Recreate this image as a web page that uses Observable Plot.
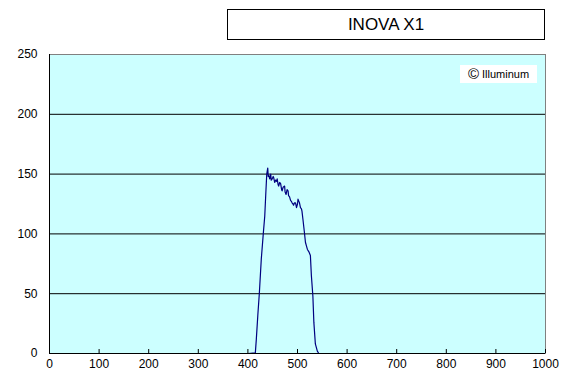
<!DOCTYPE html>
<html>
<head>
<meta charset="utf-8">
<script src="https://cdn.jsdelivr.net/npm/d3@7"></script>
<script src="https://cdn.jsdelivr.net/npm/@observablehq/plot@0.6"></script>
<style>
  html, body { margin: 0; padding: 0; background: #ffffff; }
  #wrap { position: relative; width: 571px; height: 384px; font-family: "Liberation Sans", Arial, sans-serif; }
  #title { position: absolute; left: 227px; top: 9px; width: 316px; height: 29px; border: 1px solid #000;
           background: #fff; font-size: 17px; line-height: 29px; text-align: center; color: #000; }
  #mark { position: absolute; left: 460px; top: 65px; width: 77px; height: 18px; background: #fff;
          font-size: 11px; line-height: 18px; text-align: center; color: #000; }
  #mark span.c { font-size: 15px; vertical-align: -1px; }
</style>
</head>
<body>
<div id="wrap">
  <div id="chart"></div>
  <div id="title">INOVA X1</div>
  <div id="mark"><span class="c">©</span> Illuminum</div>
</div>
<script>
const title = "INOVA X1";
const wavelength = [400, 415, 417, 420, 423, 427, 431, 434, 436, 438, 440, 441, 442, 444, 446, 447, 449, 451, 452, 454, 456, 458, 459, 461, 462, 464, 466, 468, 469, 471, 474, 475, 477, 479, 481, 482, 484, 486, 488, 489, 491, 492, 494, 496, 498, 500, 501, 503, 504, 506, 508, 509, 511, 514, 516, 518, 520, 523, 524, 526, 528, 531, 533, 536, 540, 543, 560];
const intensity  = [0,   0.5, 12,  32,  50,  79,  100, 115, 133, 150, 155, 148, 149, 146, 150, 145, 146, 148, 147, 143, 145, 144, 146, 141, 140, 143, 142, 137, 136, 139, 140, 135, 133, 137, 136, 132, 131, 128, 127, 126, 125, 124, 126, 126, 122, 125, 129, 127, 126, 122, 121, 119, 112, 101, 93,  90,  87,  85,  84,  82,  65,  48,  26,  8,   2,   0,   0];
const xTicks = [0, 100, 200, 300, 400, 500, 600, 700, 800, 900, 1000];
const yTicks = [0, 50, 100, 150, 200, 250];
const gridY = [50, 100, 150, 200];

const data = wavelength.map((w, i) => ({w, v: intensity[i]}));

const chart = Plot.plot({
  width: 571,
  height: 384,
  marginLeft: 49,
  marginRight: 26,
  marginTop: 54,
  marginBottom: 31,
  style: {fontFamily: "Liberation Sans, Arial, sans-serif", fontSize: "12px", color: "#000", background: "transparent"},
  x: {domain: [0, 1000], ticks: xTicks, label: null},
  y: {domain: [0, 250], ticks: yTicks, label: null},
  marks: [
    Plot.frame({fill: "#CCFFFF", stroke: "#808080"}),
    Plot.ruleY(gridY, {stroke: "#000", strokeWidth: 1}),
    Plot.line(data, {x: "w", y: "v", stroke: "#000080", strokeWidth: 1.2}),
    Plot.ruleX([0], {stroke: "#000"}),
    Plot.ruleY([0], {stroke: "#000"}),
    Plot.axisX({ticks: xTicks, tickSize: -4, tickPadding: 10, fontSize: 12, tickFormat: d => String(d)}),
    Plot.axisY({ticks: yTicks, tickSize: 0, tickPadding: 12, fontSize: 12, tickFormat: d => String(d)})
  ]
});
document.getElementById("chart").appendChild(chart);
</script>
</body>
</html>
